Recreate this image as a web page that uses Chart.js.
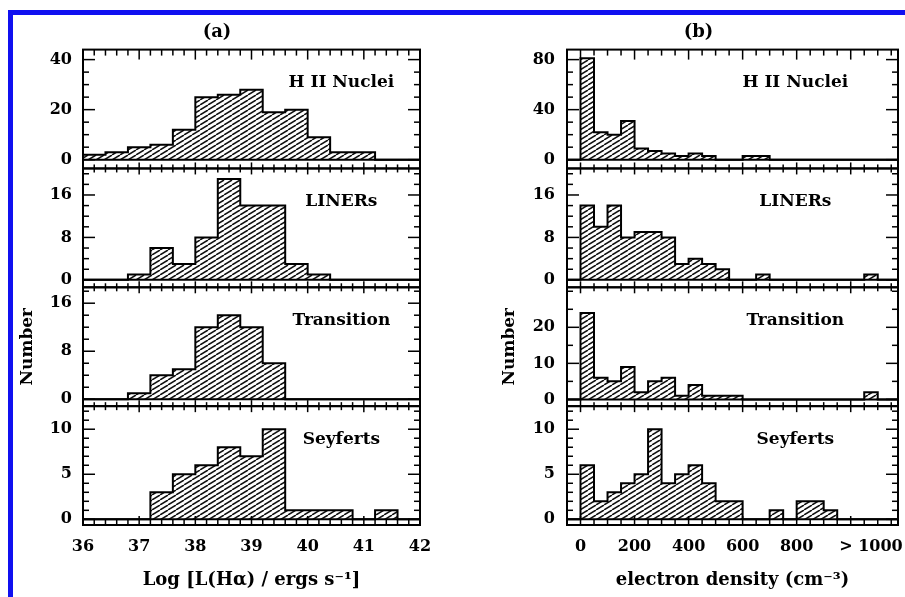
<!DOCTYPE html>
<html>
<head>
<meta charset="utf-8">
<script src="https://cdn.jsdelivr.net/npm/chart.js@4.4.1/dist/chart.umd.min.js"></script>
<style>
  html, body { margin: 0; padding: 0; background: #fff; overflow: hidden; }
  #page { position: relative; width: 905px; height: 597px; overflow: hidden; }
  #frame { position: absolute; left: 8px; top: 10px; width: 930px; height: 620px;
           border-left: 5px solid #1010f0; border-top: 5px solid #1010f0; }
  canvas { position: absolute; top: 0; }
  #left { left: 0; }
  #right { left: 460px; }
</style>
</head>
<body>
<div id="page">
  <div id="frame"></div>
  <canvas id="left" width="450" height="597"></canvas>
  <canvas id="right" width="460" height="597"></canvas>
</div>
<script>
// left edges of the bins: log L(Halpha) in 0.4 dex, density in 50 cm^-3
const lumEdges = [36.0, 36.4, 36.8, 37.2, 37.6, 38.0, 38.4, 38.8, 39.2, 39.6, 40.0, 40.4, 40.8, 41.2, 41.6];
const lumHII   = [2, 3, 5, 6, 12, 25, 26, 28, 19, 20, 9, 3, 3, 0, 0];
const lumLINER = [0, 0, 1, 6, 3, 8, 19, 14, 14, 3, 1, 0, 0, 0, 0];
const lumTrans = [0, 0, 1, 4, 5, 12, 14, 12, 6, 0, 0, 0, 0, 0, 0];
const lumSey   = [0, 0, 0, 3, 5, 6, 8, 7, 10, 1, 1, 1, 0, 1, 0];

const denEdges = [0, 50, 100, 150, 200, 250, 300, 350, 400, 450, 500, 550,
                  600, 650, 700, 750, 800, 850, 900, 950, 1000, 1050, 1100, 1150];
const denHII   = [81, 22, 20, 31, 9, 7, 5, 3, 5, 3, 0, 0, 3, 3, 0, 0, 0, 0, 0, 0, 0, 0, 0, 0];
const denLINER = [14, 10, 14, 8, 9, 9, 8, 3, 4, 3, 2, 0, 0, 1, 0, 0, 0, 0, 0, 0, 0, 1, 0, 0];
const denTrans = [24, 6, 5, 9, 2, 5, 6, 1, 4, 1, 1, 1, 0, 0, 0, 0, 0, 0, 0, 0, 0, 2, 0, 0];
const denSey   = [6, 2, 3, 4, 5, 10, 4, 5, 6, 4, 2, 2, 0, 0, 1, 0, 2, 2, 1, 0, 0, 0, 0, 0];

const panelNames = ['H II Nuclei', 'LINERs', 'Transition', 'Seyferts'];

const lumMajor = [36, 37, 38, 39, 40, 41, 42];
const lumLabels = ['36', '37', '38', '39', '40', '41', '42'];
const denMajor = [0, 200, 400, 600, 800, 1000];
const denLabelAt = [0, 200, 400, 600, 800, 1075];
const denLabels = ['0', '200', '400', '600', '800', '> 1000'];

const lumYTicks = [[0, 20, 40], [0, 8, 16], [0, 8, 16], [0, 5, 10]];
const denYTicks = [[0, 40, 80], [0, 8, 16], [0, 10, 20], [0, 5, 10]];

Chart.defaults.font.family = '"DejaVu Serif", serif';
Chart.defaults.font.weight = 'bold';
Chart.defaults.color = '#000';

function hatch() {
  const c = document.createElement('canvas');
  c.width = 8; c.height = 5;
  const g = c.getContext('2d');
  g.strokeStyle = '#111';
  g.lineWidth = 1.5;
  for (const o of [-8, 0, 8]) {
    g.beginPath(); g.moveTo(o, 5); g.lineTo(o + 8, 0); g.stroke();
  }
  return g.createPattern(c, 'repeat');
}
const pattern = hatch();

// histogram outline as a stepped line, one point per bin edge
function steps(edges, counts, width, start) {
  const pts = [];
  if (start !== undefined) pts.push({x: start, y: 0});
  edges.forEach((e, i) => pts.push({x: e, y: counts[i]}));
  pts.push({x: edges[edges.length - 1] + width, y: counts[counts.length - 1]});
  return pts;
}

function seg(ctx, x1, y1, x2, y2) {
  ctx.beginPath(); ctx.moveTo(x1, y1); ctx.lineTo(x2, y2); ctx.stroke();
}

const panelFrames = {
  id: 'panelFrames',
  afterDraw(chart, args, opts) {
    const ctx = chart.ctx;
    const xs = chart.scales.x;
    const l = xs.left, r = xs.right;
    const n = opts.panels.length;
    const isMaj = (list, v) => list.some(m => Math.abs(m - v) < 1e-6);
    ctx.save();
    ctx.strokeStyle = '#000';
    opts.panels.forEach((p, i) => {
      const ys = chart.scales['y' + i];
      const t = ys.top, b = ys.bottom;
      ctx.lineWidth = 2;
      const z = ys.getPixelForValue(0);
      seg(ctx, l, z, r, z);
      ctx.lineWidth = 1.5;
      // x ticks, pointing in from top and bottom edges
      const k0 = Math.ceil(xs.min / opts.xMinor - 1e-6), k1 = Math.floor(xs.max / opts.xMinor + 1e-6);
      for (let k = k0; k <= k1; k++) {
        const v = k * opts.xMinor;
        const px = xs.getPixelForValue(v);
        const maj = isMaj(opts.xMajor, v);
        const lt = i === 0 ? (maj ? 10 : 6) : (maj ? 6 : 4);
        const lb = i === n - 1 ? (maj ? 9 : 5) : (maj ? 6 : 4);
        seg(ctx, px, t, px, t + lt);
        seg(ctx, px, b, px, b - lb);
      }
      // y ticks on both sides
      const j0 = Math.ceil(ys.min / p.minor - 1e-6), j1 = Math.floor(ys.max / p.minor + 1e-6);
      for (let j = j0; j <= j1; j++) {
        const v = j * p.minor;
        const py = ys.getPixelForValue(v);
        const len = isMaj(p.major, v) ? 12 : 6;
        seg(ctx, l, py, l + len, py);
        seg(ctx, r, py, r - len, py);
      }
      ctx.lineWidth = 2;
      ctx.strokeRect(l, t, r - l, b - t);
      ctx.fillStyle = '#000';
      ctx.font = 'bold 17px "DejaVu Serif"';
      ctx.textAlign = 'center';
      ctx.textBaseline = 'middle';
      ctx.fillText(p.label, xs.getPixelForValue(opts.labelX), t + 33);
    });
    ctx.restore();
  }
};

function makeChart(id, c) {
  const scales = {
    x: {
      type: 'linear', min: c.xMin, max: c.xMax,
      afterBuildTicks: s => { s.ticks = c.labelAt.map(v => ({value: v})); },
      afterFit: s => { s.height = 72; },
      ticks: {autoSkip: false, maxRotation: 0, padding: 12, font: {size: 16},
               callback: (v, i) => c.labels[i]},
      grid: {display: false, drawTicks: false},
      border: {display: false},
      title: {display: true, text: c.xTitle, font: {size: 18}, padding: {top: 0, bottom: 6}}
    }
  };
  const datasets = [];
  c.panels.forEach((p, i) => {
    scales['y' + i] = {
      type: 'linear', position: 'left', stack: 'col', stackWeight: 1, weight: 4 - i,
      min: p.min, max: p.max,
      afterBuildTicks: s => { s.ticks = p.major.map(v => ({value: v})); },
      afterFit: s => { s.width = c.yWidth; },
      ticks: {padding: c.yPad, font: {size: 16}, callback: v => String(v)},
      grid: {display: false, drawTicks: false},
      border: {display: false},
      title: {display: i === 2, text: 'Number', font: {size: 17}, padding: {top: c.numPad, bottom: 0}}
    };
    datasets.push({
      data: p.data, xAxisID: 'x', yAxisID: 'y' + i,
      stepped: true, fill: 'origin', backgroundColor: pattern,
      borderColor: '#000', borderWidth: 2, pointRadius: 0, pointHoverRadius: 0
    });
  });
  return new Chart(document.getElementById(id), {
    type: 'line',
    data: {datasets},
    options: {
      responsive: false, animation: false, devicePixelRatio: 1, events: [],
      layout: {padding: c.pad},
      scales,
      plugins: {
        legend: {display: false},
        tooltip: {enabled: false},
        title: {display: true, text: c.title, font: {size: 18}, padding: {top: 2, bottom: 6}},
        panelFrames: {panels: c.panels, xMinor: c.xMinor, xMajor: c.xMajor, labelX: c.labelX}
      }
    },
    plugins: [panelFrames]
  });
}

makeChart('left', {
  title: '(a)', xTitle: 'Log [L(H\u03b1) / ergs s\u207b\u00b9]',
  xMin: 36, xMax: 42, xMinor: 0.2, xMajor: lumMajor, labelAt: lumMajor, labels: lumLabels,
  labelX: 40.6, yWidth: 69, yPad: 11, numPad: 3,
  pad: {top: 20, left: 14, right: 30, bottom: 0},
  panels: [
    {label: panelNames[0], data: steps(lumEdges, lumHII, 0.4), min: -3.5, max: 44, major: lumYTicks[0], minor: 5},
    {label: panelNames[1], data: steps(lumEdges, lumLINER, 0.4), min: -1.4, max: 21, major: lumYTicks[1], minor: 2},
    {label: panelNames[2], data: steps(lumEdges, lumTrans, 0.4), min: -1.15, max: 18.65, major: lumYTicks[2], minor: 2},
    {label: panelNames[3], data: steps(lumEdges, lumSey, 0.4), min: -0.63, max: 12.56, major: lumYTicks[3], minor: 1}
  ]
});

makeChart('right', {
  title: '(b)', xTitle: 'electron density (cm\u207b\u00b3)',
  xMin: -50, xMax: 1175, xMinor: 50, xMajor: denMajor, labelAt: denLabelAt, labels: denLabels,
  labelX: 795, yWidth: 68, yPad: 12, numPad: 0,
  pad: {top: 20, left: 39, right: 22, bottom: 0},
  panels: [
    {label: panelNames[0], data: steps(denEdges, denHII, 50, -50), min: -7, max: 88, major: denYTicks[0], minor: 10},
    {label: panelNames[1], data: steps(denEdges, denLINER, 50, -50), min: -1.4, max: 21, major: denYTicks[1], minor: 2},
    {label: panelNames[2], data: steps(denEdges, denTrans, 50, -50), min: -1.875, max: 31.1, major: denYTicks[2], minor: 5},
    {label: panelNames[3], data: steps(denEdges, denSey, 50, -50), min: -0.63, max: 12.56, major: denYTicks[3], minor: 1}
  ]
});
</script>
</body>
</html>
